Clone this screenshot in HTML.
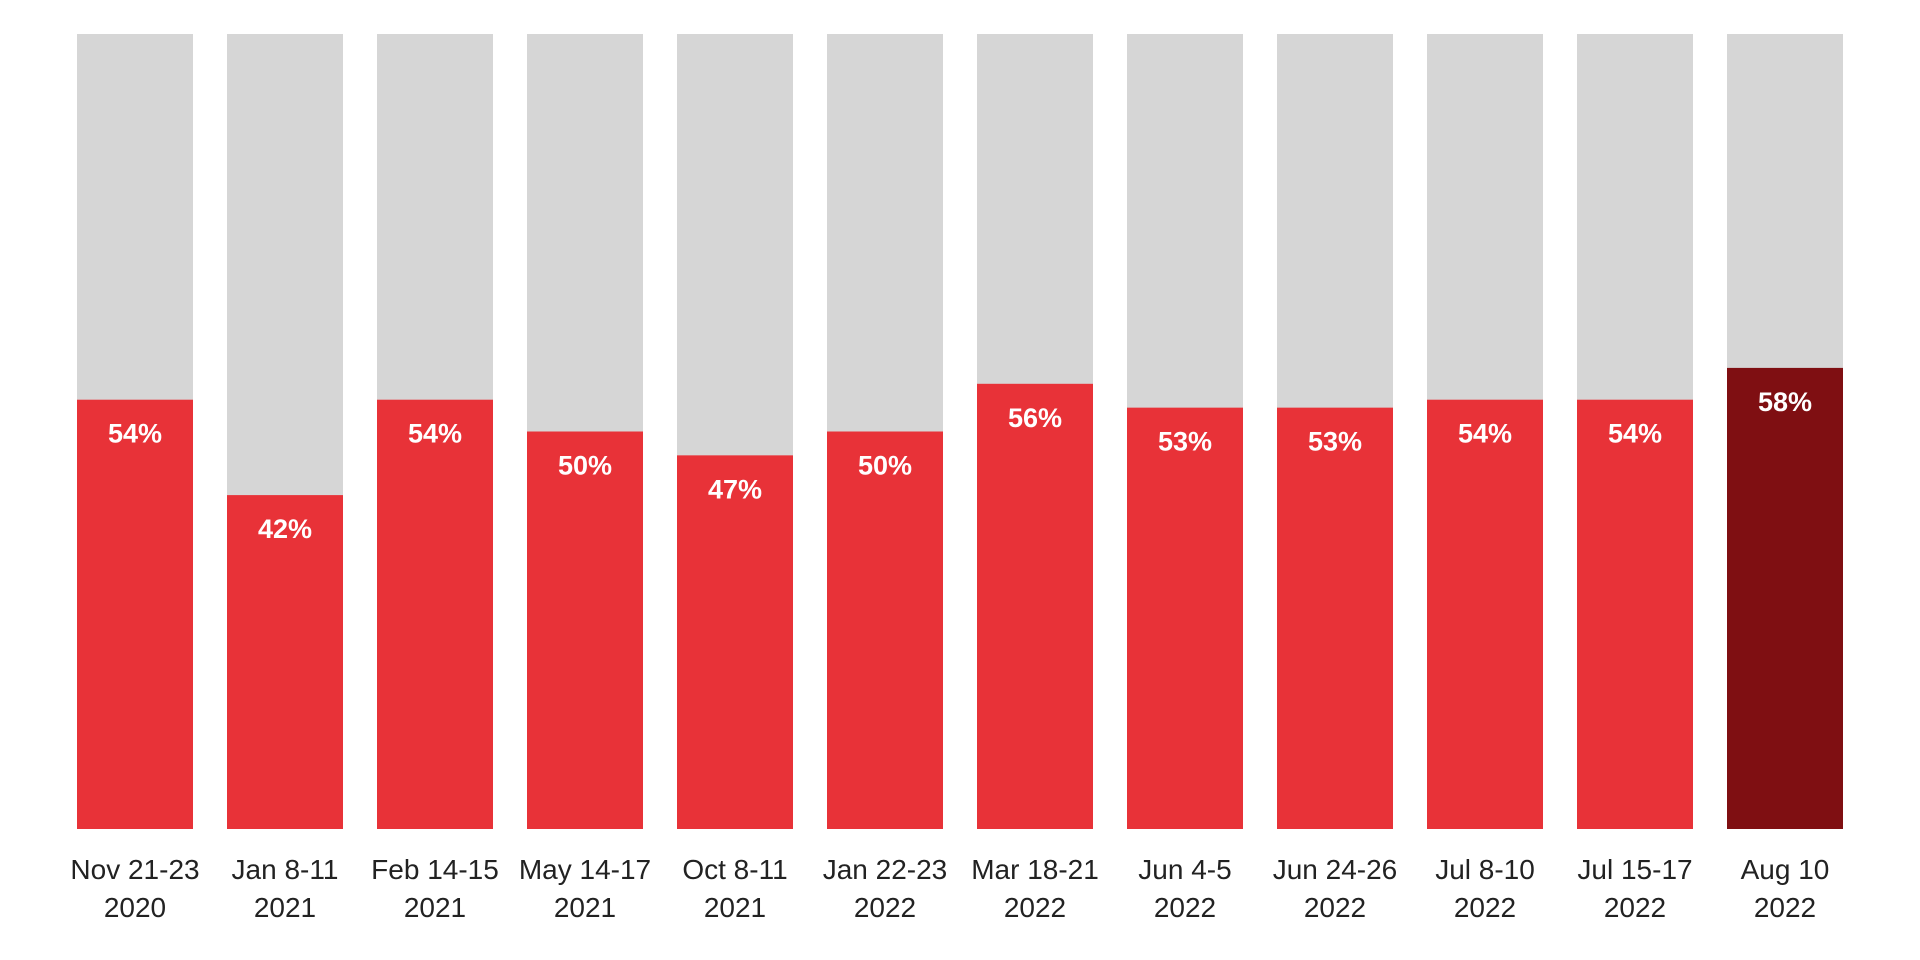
<!DOCTYPE html>
<html><head><meta charset="utf-8"><style>
html,body{margin:0;padding:0;background:#fff;width:1920px;height:960px;overflow:hidden}
svg text{font-family:"Liberation Sans",sans-serif}
</style></head><body>
<svg id="chart" width="1920" height="960" xmlns="http://www.w3.org/2000/svg"></svg>
<script>
const categories=["Nov 21-23","Jan 8-11","Feb 14-15","May 14-17","Oct 8-11","Jan 22-23","Mar 18-21","Jun 4-5","Jun 24-26","Jul 8-10","Jul 15-17","Aug 10"];
const years=["2020","2021","2021","2021","2021","2022","2022","2022","2022","2022","2022","2022"];
const values=[54,42,54,50,47,50,56,53,53,54,54,58];
const highlight=[false,false,false,false,false,false,false,false,false,false,false,true];
const svgEl=document.getElementById('chart');
const NS='http://www.w3.org/2000/svg';
const plotLeft=77,pitch=150,bw=116,plotTop=34,plotBottom=829;
const xPos=i=>plotLeft+i*pitch;
const yPos=v=>plotBottom-(v/100)*(plotBottom-plotTop);
function mk(t,a){const e=document.createElementNS(NS,t);for(const k in a)e.setAttribute(k,a[k]);svgEl.appendChild(e);return e;}
categories.forEach((c,i)=>{
  const bg=mk('rect',{x:xPos(i),y:plotTop,width:bw,height:plotBottom-plotTop,fill:'#d6d6d6'});
  
  
  const b=mk('rect',{x:xPos(i),y:yPos(values[i]),width:bw,height:plotBottom-yPos(values[i]),fill:highlight[i]?'#7f0f12':'#e83238'});
  
  
  const t=mk('text',{x:xPos(i)+bw/2,y:yPos(values[i])+43,'text-anchor':'middle','font-size':27,'font-weight':'bold',fill:'#fff'});
  t.textContent=values[i]+'%';
  
  
  const l1=mk('text',{x:xPos(i)+bw/2,y:879,'text-anchor':'middle','font-size':28,fill:'#222'});
  l1.textContent=c;
  
  
  const l2=mk('text',{x:xPos(i)+bw/2,y:917,'text-anchor':'middle','font-size':28,fill:'#222'});
  l2.textContent=years[i];
  
  
});
</script>
</body></html>
